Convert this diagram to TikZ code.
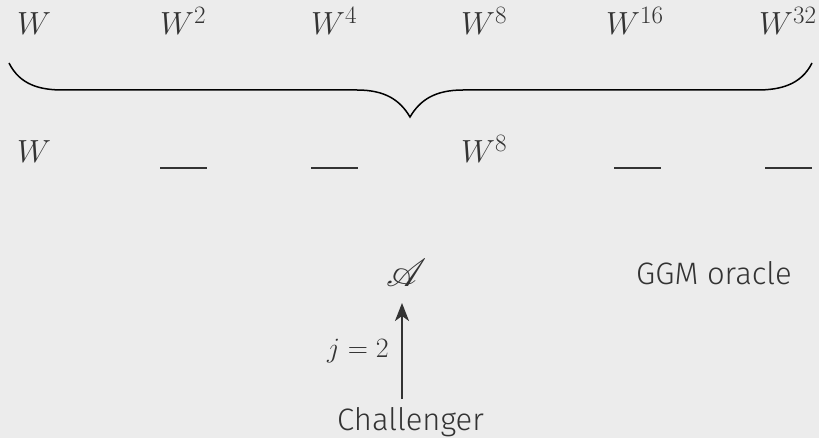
\RequirePackage{fix-cm}
\documentclass[tikz,border=0pt]{standalone}
\usepackage{fontspec}
\setsansfont{Fira Sans Light}
\usepackage{mathrsfs}
\usetikzlibrary{arrows.meta}
\DeclareMathSizes{32}{32}{25}{19}
\definecolor{bg}{HTML}{ECECEC}
\definecolor{ink}{HTML}{333333}
\tikzset{
  mtext/.style={text=ink, inner sep=0pt, anchor=base west, font=\fontsize{32}{36}\selectfont},
  stext/.style={text=ink, inner sep=0pt, anchor=base west, font=\sffamily\fontsize{31}{35}\selectfont},
  blank/.style={draw=ink, line width=1.4pt},
  brace/.style={draw=black, line width=1.5pt},
  arr/.style={draw=ink, line width=2pt, -{Stealth[length=18pt,width=14pt,inset=5pt]}}
}
\begin{document}
\begin{tikzpicture}[x=1pt,y=-1pt]
\fill[bg] (0,0) rectangle (819,438);
\useasboundingbox (0,0) rectangle (819,438);
% top row
\node[mtext] (t1) at (17,35) {$W$};
\node[mtext] (t2) at (160,35) {$W^2$};
\node[mtext] (t3) at (311,35) {$W^4$};
\node[mtext] (t4) at (461,35) {$W^8$};
\node[mtext] (t5) at (606,35) {$W^{16}$};
\node[mtext] (t6) at (759,35) {$W^{32}$};
% brace
\draw[brace] (9,63) .. controls (20,85) and (40,90) .. (63,90) -- (357,90)
  .. controls (385,90) and (400,100) .. (410,117)
  .. controls (420,100) and (435,90) .. (463,90) -- (757,90)
  .. controls (780,90) and (801,85) .. (812,63);
% bottom row
\node[mtext] (b1) at (17,163) {$W$};
\node[mtext] (b4) at (461,163) {$W^8$};
\draw[blank] (160,168) -- (207,168);
\draw[blank] (311,168) -- (358,168);
\draw[blank] (614,168) -- (661,168);
\draw[blank] (765,168) -- (812,168);
% adversary
\node[text=ink, inner sep=0pt, anchor=base west] (A) at (386,287) {\scalebox{3.9}{$\mathscr{A}$}};
\node[stext] (ggm) at (636,285) {GGM oracle};
\node[stext] (chal) at (337,430) {Challenger};
\coordinate (as) at (402,399);
\coordinate (ae) at (402,303);
\draw[arr] (as) -- (ae);
\node[text=ink, inner sep=0pt, anchor=base west, font=\fontsize{28}{32}\selectfont] (jl) at (327,357) {$j=2$};
\end{tikzpicture}
\end{document}
